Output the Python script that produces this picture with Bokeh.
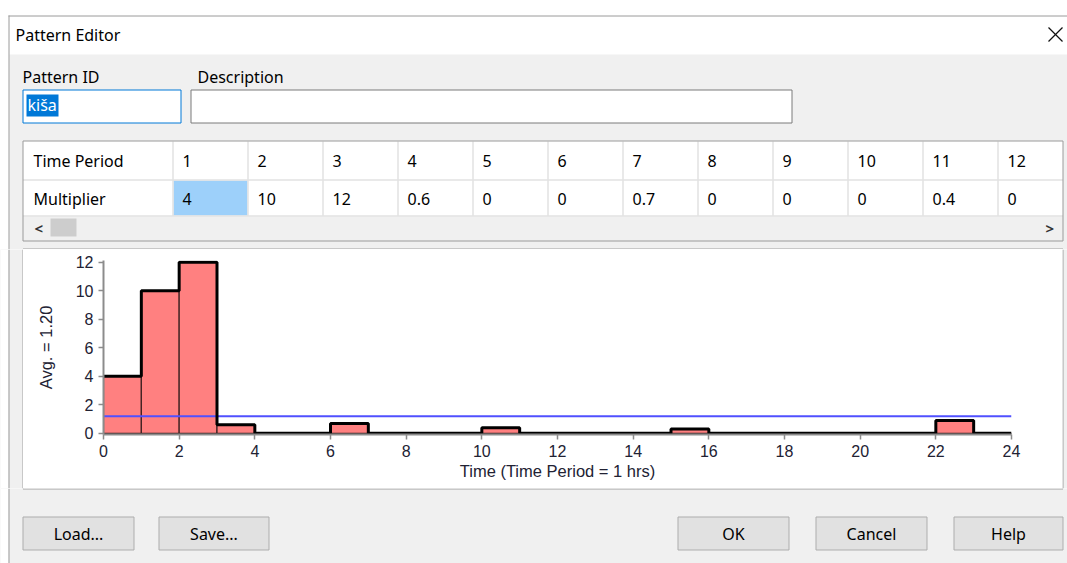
from bokeh.plotting import figure
from bokeh.layouts import column, row
from bokeh.models import Range1d, FixedTicker
from bokeh.core.properties import value
from bokeh.embed import file_html
from bokeh.resources import INLINE

# ---------------- data ----------------
time_periods = list(range(1, 25))
multipliers = [4, 10, 12, 0.6, 0, 0, 0.7, 0, 0, 0, 0.4, 0, 0, 0, 0, 0.3, 0, 0, 0, 0, 0, 0, 0.9, 0]
period_hours = 1
x_ticks = list(range(0, 25, 2))
y_ticks = list(range(0, 13, 2))
visible_columns = 12
pattern_id = "kiša"
dialog_title = "Pattern Editor"
row_labels = ["Time Period", "Multiplier"]
field_labels = ["Pattern ID", "Description"]
buttons = ["Load...", "Save...", "OK", "Cancel", "Help"]

# ---------------- styling ----------------
UI_FONT = value("Noto Sans")
CHART_FONT = "Liberation Sans"
GRAY = "#f0f0f0"
BORDER = "#9a9a9a"
W = 1067


def bare(w, h, bg):
    p = figure(width=w, height=h, x_range=Range1d(0, w), y_range=Range1d(h, 0),
               output_backend="svg", toolbar_location=None, frame_align=False,
               x_axis_location=None, y_axis_location=None, min_border=0,
               outline_line_color=None, background_fill_color=bg, border_fill_color=bg)
    p.grid.visible = False
    return p


def ui_text(p, xs, ys, texts, size="16px", color="#000000", align="left", style="normal"):
    p.text(x=xs, y=ys, text=texts, text_font=UI_FONT, text_font_size=size,
           text_color=color, text_baseline="middle", text_align=align, text_font_style=style)


def fmt(v):
    return f"{v:g}"

# ---------------- top: title, fields, table ----------------
top = bare(W, 249, "white")
top.quad(left=[9], right=[W], top=[54], bottom=[249], fill_color=GRAY, line_color=None)
top.segment(x0=[8], y0=[15.5], x1=[W], y1=[15.5], line_color=BORDER, line_width=1)
top.segment(x0=[8.5], y0=[15], x1=[8.5], y1=[249], line_color=BORDER, line_width=1)
ui_text(top, [15], [34], [dialog_title])
top.segment(x0=[1048, 1048], y0=[27, 41], x1=[1062, 1062], y1=[41, 27], line_color="#111111", line_width=1.3)

ui_text(top, [22, 197], [76, 76], field_labels)
top.quad(left=[22.5, 190.5], right=[180.5, 791.5], top=[89.5, 89.5], bottom=[122.5, 122.5],
         fill_color="white", line_color=["#0078d7", "#7a7a7a"], line_width=1)
top.quad(left=[26], right=[58], top=[94], bottom=[116], fill_color="#0078d7", line_color=None)
ui_text(top, [27], [104.5], [pattern_id], color="white")

# table
top.quad(left=[22.5], right=[1062.5], top=[140.5], bottom=[216], fill_color="white", line_color=None)
top.quad(left=[173], right=[247], top=[180], bottom=[215], fill_color="#9dd0fa", line_color=None)
col_x = [172.5 + 75 * k for k in range(visible_columns)]
top.segment(x0=col_x, y0=[141] * len(col_x), x1=col_x, y1=[215.5] * len(col_x),
            line_color="#e2e2e2", line_width=1.5)
top.segment(x0=[22.5, 22.5], y0=[179.5, 215.5], x1=[1062.5, 1062.5], y1=[179.5, 215.5],
            line_color="#e2e2e2", line_width=1.5)
top.quad(left=[50], right=[76], top=[218], bottom=[236], fill_color="#cdcdcd", line_color=None)
top.quad(left=[22.5], right=[1062.5], top=[140.5], bottom=[240.5], fill_color=None,
         line_color=BORDER, line_width=1)
ui_text(top, [34, 1045], [227, 227], ["<", ">"], size="15px", color="#333333", style="bold")
ui_text(top, [33, 33], [160, 198], row_labels)
ui_text(top, [x + 9.5 for x in col_x], [160] * visible_columns,
        [str(t) for t in time_periods[:visible_columns]])
ui_text(top, [x + 9.5 for x in col_x], [198] * visible_columns,
        [fmt(v) for v in multipliers[:visible_columns]])
top.segment(x0=[22.5], y0=[248.5], x1=[1062.5], y1=[248.5], line_color="#a0a0a0", line_width=1)
top.segment(x0=[22.5, 1062.5], y0=[248.5, 248.5], x1=[22.5, 1062.5], y1=[249, 249],
            line_color="#a0a0a0", line_width=1)

# ---------------- side strips of chart panel ----------------
left = bare(23, 239, GRAY)
left.quad(left=[0], right=[8], top=[0], bottom=[239], fill_color="white", line_color=None)
left.segment(x0=[8.5, 22.5], y0=[0, 0], x1=[8.5, 22.5], y1=[239, 239],
             line_color=[BORDER, "#a0a0a0"], line_width=1)
right = bare(5, 239, GRAY)
right.segment(x0=[0.5], y0=[0], x1=[0.5], y1=[239], line_color="#a0a0a0", line_width=1)

# ---------------- chart ----------------
avg = sum(multipliers) / len(multipliers)
edges = list(range(0, len(multipliers) + 1))
chart = figure(width=1039, height=239, x_range=Range1d(0, 24), y_range=Range1d(-0.08, 12.12),
               output_backend="svg", toolbar_location=None, frame_align=False,
               min_border_left=80, min_border_right=51, min_border_top=11, min_border_bottom=54,
               background_fill_color="white", border_fill_color="white", outline_line_color=None)
chart.grid.visible = False
chart.quad(left=edges[:-1], right=edges[1:], bottom=0, top=multipliers,
           fill_color="#ff8080", line_color="#3a2020", line_width=1.2)
chart.line(x=[0, 24], y=[avg, avg], line_color="#5050ff", line_width=2)
chart.step(x=edges, y=multipliers + [multipliers[-1]], mode="after", line_color="black", line_width=3)

chart.xaxis.ticker = FixedTicker(ticks=x_ticks)
chart.yaxis.ticker = FixedTicker(ticks=y_ticks)
chart.axis.minor_tick_line_color = None
chart.axis.axis_line_color = "#8c8c8c"
chart.axis.axis_line_width = 2
chart.axis.major_tick_line_color = "#8c8c8c"
chart.axis.major_tick_line_width = 1.5
chart.axis.major_tick_out = 5
chart.axis.major_tick_in = 0
chart.axis.major_label_text_font = CHART_FONT
chart.axis.major_label_text_font_size = "16px"
chart.axis.major_label_text_color = "#222233"
chart.axis.axis_label_text_font = CHART_FONT
chart.axis.axis_label_text_font_size = "16.5px"
chart.axis.axis_label_text_font_style = "normal"
chart.axis.axis_label_text_color = "#222233"
chart.xaxis.major_label_standoff = 5
chart.yaxis.major_label_standoff = 5
chart.xaxis.axis_label = f"Time (Time Period = {period_hours} hrs)"
chart.yaxis.axis_label = f"Avg. = {avg:.2f}"
chart.xaxis.axis_label_standoff = 2
chart.yaxis.axis_label_standoff = 18

# ---------------- bottom: buttons ----------------
bottom = bare(W, 75, GRAY)
bottom.quad(left=[0], right=[8], top=[0], bottom=[75], fill_color="white", line_color=None)
bottom.segment(x0=[22.5, 8.5, 22.5, 1062.5], y0=[0.5, 0, 0, 0], x1=[1062.5, 8.5, 22.5, 1062.5],
               y1=[0.5, 75, 0.5, 0.5], line_color=["#a0a0a0", BORDER, "#a0a0a0", "#a0a0a0"], line_width=1)
b_left = [22.5, 158.5, 677.5, 815.5, 953.5]
b_right = [133.5, 268.5, 788.5, 926.5, 1062.5]
bottom.quad(left=b_left, right=b_right, top=[28.5] * 5, bottom=[61.5] * 5,
            fill_color="#e1e1e1", line_color="#adadad", line_width=1)
ui_text(bottom, [(a + b) / 2 for a, b in zip(b_left, b_right)], [45] * 5, buttons, align="center")

layout = column(top, row(left, chart, right), bottom)
open("out.html", "w").write(file_html(layout, INLINE))
